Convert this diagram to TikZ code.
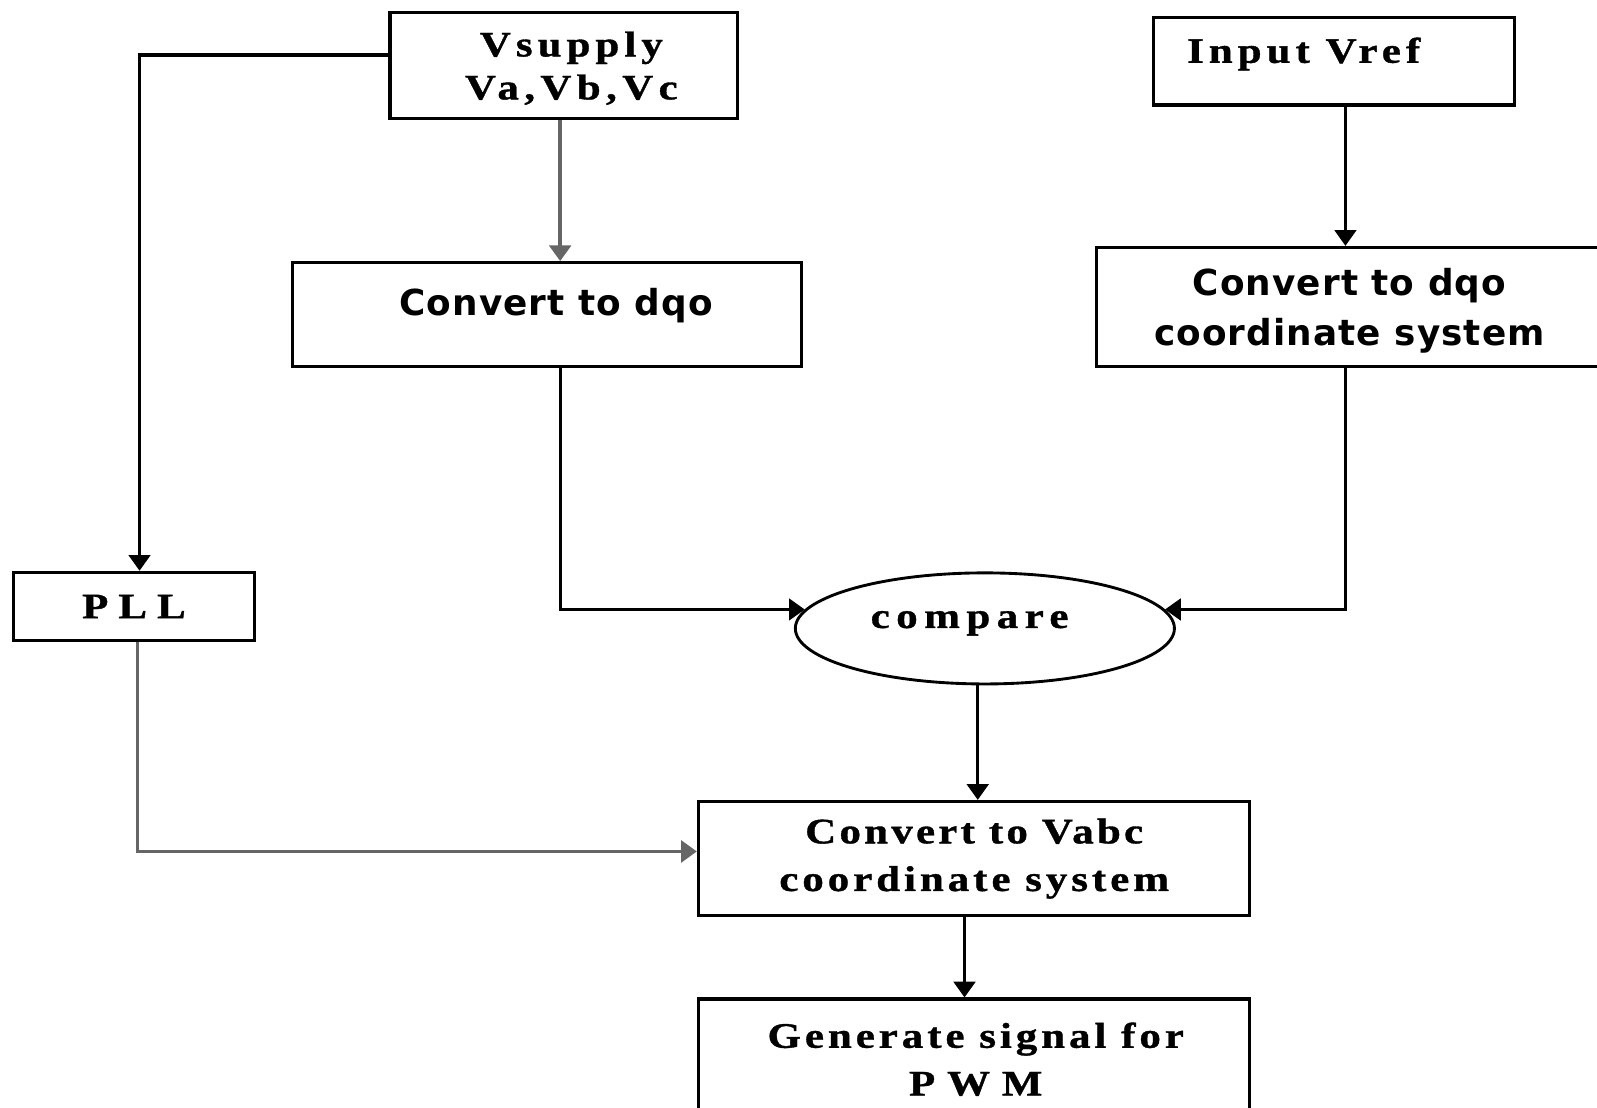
\documentclass[tikz,border=0pt]{standalone}
\usepackage{fontspec}
\setmainfont{Liberation Serif}[FakeStretch=1.2, BoldFeatures={FakeBold=1}]
\newfontfamily\dqofont{DejaVu Sans}[LetterSpace=3]
\usetikzlibrary{arrows.meta, shapes.geometric}

\newcommand{\spaced}[1]{\addfontfeature{LetterSpace=#1}}

\tikzset{
  block/.style={draw, line width=0.9pt, rectangle, inner sep=0pt},
  oval/.style={draw, line width=0.8pt, ellipse, inner sep=0pt},
  serif/.style={font=\bfseries\fontsize{10}{13.3}\selectfont, align=center, inner sep=0pt},
  sans/.style={font=\dqofont\bfseries\fontsize{10}{14}\selectfont, align=center, inner sep=0pt},
  wire/.style={line width=0.9pt},
  greywire/.style={line width=1.1pt, draw=black!60}
}

\begin{document}
\begin{tikzpicture}[x=0.01cm, y=-0.01cm, >={Triangle[length=4.4pt, width=6pt]}]

\useasboundingbox (0,0) rectangle (1568,1087);
\clip (0,0) rectangle (1568,1087);

% Blocks
\node[block, minimum width=3.41cm, minimum height=1.04cm] (vsup) at (553.5,64) {};
\node[serif, font=\bfseries\fontsize{10}{12}\selectfont] (vsuptxt) at (561,67) {\spaced{14}Vsupply\\\spaced{15}Va,Vb,Vc};

\node[block, minimum width=3.54cm, minimum height=0.86cm] (vref) at (1310,60) {};
\node[serif] (vreftxt) at (1280,53) {\spaced{14}Input Vref};

\node[block, minimum width=5.00cm, minimum height=1.02cm] (dqoA) at (537,309) {};
\node[sans] (dqoAtxt) at (546,300) {Convert to dqo};

\node[block, minimum width=5.63cm, minimum height=1.17cm] (dqoB) at (1358.5,301.5) {};
\node[sans] (dqoBtxt) at (1325,305) {Convert to dqo\\coordinate system};

\node[block, serif, minimum width=2.37cm, minimum height=0.67cm] (pll) at (131.5,595.5) {\spaced{28}PLL};

% Compare
\node[oval, minimum width=3.72cm, minimum height=1.09cm] (cmp) at (967,617) {};
\node[serif] (cmptxt) at (952,612) {\spaced{18}compare};

\node[block, serif, minimum width=5.41cm, minimum height=1.12cm] (vabc) at (956.5,843) {\spaced{9}Convert to Vabc\\\spaced{11}coordinate system};

\node[block, minimum width=5.41cm, minimum height=1.59cm] (gen) at (956.5,1060.5) {};
\node[serif] (gentxt) at (958,1040) {\spaced{11}Generate signal for\\\spaced{33}PWM};

% Connectors
\draw[wire, ->] (vsup.west |- 0,54) -| (pll.north -| 137,0);
\draw[greywire, ->] (vsup.south -| 550,0) -- (dqoA.north -| 550,0);
\draw[wire, ->] (vref.south -| 1321,0) -- (dqoB.north -| 1321,0);
\draw[wire, ->] (dqoA.south -| 550,0) |- (cmp.174);
\draw[wire, ->] (dqoB.south -| 1321,0) |- (cmp.6);
\draw[wire, ->] (cmp.south -| 960,0) -- (vabc.north -| 960,0);
\draw[greywire, ->] (pll.south -| 135,0) |- (vabc.west |- 0,836);
\draw[wire, ->] (vabc.south -| 947,0) -- (gen.north -| 947,0);

\end{tikzpicture}
\end{document}
